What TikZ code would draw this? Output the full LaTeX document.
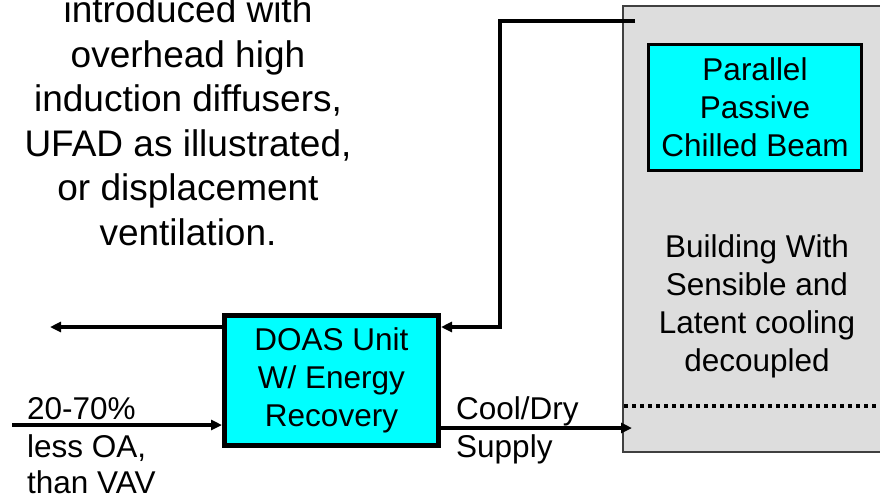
\documentclass[tikz,border=0pt]{standalone}
\usepackage{fontspec}
\setmainfont{Liberation Sans}
\usetikzlibrary{arrows.meta}
\definecolor{bggray}{HTML}{DDDDDD}
\definecolor{boxcyan}{HTML}{00FFFF}
\begin{document}
\begin{tikzpicture}[x=1pt,y=-1pt,
  txt/.style={inner sep=0pt, anchor=base, font=\fontsize{31.5}{38}\selectfont},
  lbl/.style={inner sep=0pt, anchor=base west, font=\fontsize{31.5}{38}\selectfont},
  big/.style={inner sep=0pt, anchor=base, font=\fontsize{37}{44.5}\selectfont},
  unitbox/.style={draw=black, fill=boxcyan, align=center, inner sep=0pt, font=\fontsize{31.5}{38}\selectfont},
  flow/.style={line width=3.2pt, -{Triangle[length=11pt,width=10pt]}},
]
\useasboundingbox (0,0) rectangle (880,499);
\clip (0,0) rectangle (880,499);

% building
\node[draw=black!75, fill=bggray, line width=1.2pt, minimum width=259pt, minimum height=446pt, inner sep=0pt, outer sep=0pt] (bldg) at (752.5,229) {};
\draw[line width=3.5pt, dash pattern=on 4pt off 4pt] ([xshift=1pt]bldg.west |- 0,406) -- (bldg.east |- 0,406);

% units
\node[unitbox, line width=3pt, minimum width=213pt, minimum height=126pt] (beam) at (755,107.5) {Parallel\\Passive\\Chilled Beam};
\node[unitbox, line width=5pt, minimum width=214pt, minimum height=130pt] (doas) at (331.5,380.5) {DOAS Unit\\W/ Energy\\Recovery};

% building text
\node[txt] (b1) at (757,257) {Building With};
\node[txt] (b2) at (757,295) {Sensible and};
\node[txt] (b3) at (757,333) {Latent cooling};
\node[txt] (b4) at (757,371) {decoupled};

% top-left text
\node[big] (t1) at (188,22.5) {introduced with};
\node[big] (t2) at (188,67) {overhead high};
\node[big] (t3) at (188,111.5) {induction diffusers,};
\node[big] (t4) at (188,156) {UFAD as illustrated,};
\node[big] (t5) at (188,200.5) {or displacement};
\node[big] (t6) at (188,245) {ventilation.};

% labels
\node[lbl] (l1) at (27,419) {20-70\%};
\node[lbl] (l2) at (27,457) {less OA,};
\node[lbl] (l3) at (27,493.5) {than VAV};
\node[lbl] (c1) at (456,419) {Cool/Dry};
\node[lbl] (c2) at (456,457) {Supply};

% connectors
\coordinate (ret0) at (635,21);
\coordinate (rx) at (500,21);
\coordinate (exh) at (50,327);
\coordinate (in0) at (12,425);
\coordinate (sup) at (632,428);
\draw[flow] (ret0) -- (rx) |- ([yshift=53.5pt]doas.east);
\draw[flow] ([yshift=53.5pt]doas.west) -- (exh);
\draw[flow, line width=3.8pt] (in0) -- (doas.west |- in0);
\draw[flow] (doas.east |- sup) -- (sup);
\end{tikzpicture}
\end{document}
